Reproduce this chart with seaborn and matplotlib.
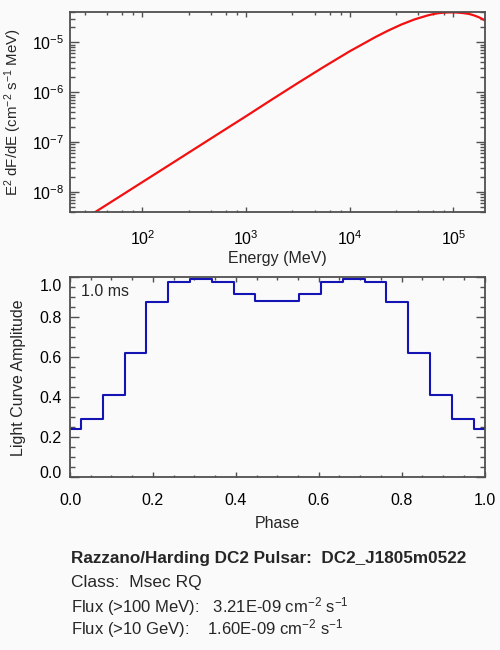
import numpy as np
import matplotlib
matplotlib.use("Agg")
import matplotlib.pyplot as plt
import matplotlib.ticker as mticker
from matplotlib.transforms import ScaledTranslation
import seaborn as sns
import pandas as pd

# --- spectrum (MeV, E^2 dF/dE)
energy = [31.6, 56.2, 100, 178, 316, 562, 1000, 1778, 3162, 5623,
          10000, 17783, 23714, 31623, 42170, 56234, 63096, 70795, 79433,
          89125, 100000, 112202, 125893, 141254, 158489, 177828, 199526]
e2dnde = [3.47e-9, 7.41e-9, 1.585e-8, 3.39e-8, 7.24e-8, 1.55e-7, 3.31e-7,
          7.16e-7, 1.53e-6, 3.22e-6, 6.61e-6, 1.281e-5, 1.734e-5, 2.28e-5,
          2.877e-5, 3.45e-5, 3.656e-5, 3.82e-5, 3.926e-5, 3.972e-5, 3.981e-5,
          3.936e-5, 3.846e-5, 3.715e-5, 3.467e-5, 3.162e-5, 2.786e-5]

# --- light curve (20 phase bins)
amplitude = [0.24, 0.29, 0.41, 0.62, 0.875, 0.975, 0.99, 0.975, 0.918, 0.883,
             0.883, 0.918, 0.975, 0.99, 0.975, 0.875, 0.62, 0.41, 0.29, 0.24]
phase = np.linspace(0.0, 1.0, len(amplitude))

pulsar_name = "DC2_J1805m0522"
pulsar_class = "Msec RQ"
flux_100mev = "3.21E-09"
flux_10gev = "1.60E-09"
period_text = "1.0 ms"

spec = pd.DataFrame({"energy": energy, "flux": e2dnde})
lc = pd.DataFrame({"phase": phase, "amp": amplitude})

sns.set_style("ticks")
bg = "#fafafa"
axcol = "#505050"
plt.rcParams["font.family"] = ["Liberation Sans", "DejaVu Sans"]
plt.rcParams["mathtext.fontset"] = "custom"
plt.rcParams["mathtext.rm"] = "Liberation Sans"
plt.rcParams["mathtext.it"] = "Liberation Sans:italic"
plt.rcParams["mathtext.bf"] = "Liberation Sans:bold"
plt.rcParams["font.size"] = 11.5


def style_axes(ax):
    ax.set_facecolor(bg)
    for s in ax.spines.values():
        s.set_color(axcol)
        s.set_linewidth(1.3)
    ax.tick_params(which="both", direction="in", top=True, right=True,
                   colors=axcol, labelcolor="black", width=1.0)
    ax.tick_params(axis="x", which="major", length=3.3, pad=11)
    ax.tick_params(axis="x", which="minor", length=1.8)
    ax.tick_params(axis="y", which="major", length=6.2, pad=4)
    ax.tick_params(axis="y", which="minor", length=3.6)


fig = plt.figure(figsize=(5, 6.5), dpi=100, facecolor=bg)

###     --Spectrum
ax1 = fig.add_axes([0.14, 0.6734, 0.829, 0.3077])
sns.lineplot(data=spec, x="energy", y="flux", ax=ax1, color="#f21010",
             linewidth=1.6, sort=False)
ax1.set_xscale("log")
ax1.set_yscale("log")
ax1.set_xlim(20, 2.0e5)
ax1.set_ylim(3.93e-9, 4.0e-5)
ax1.xaxis.set_major_locator(mticker.LogLocator(base=10, numticks=10))
ax1.xaxis.set_minor_locator(mticker.LogLocator(base=10, subs=(2.8, 4.6, 6.4, 8.2), numticks=10))
ax1.xaxis.set_minor_formatter(mticker.NullFormatter())
ax1.yaxis.set_major_locator(mticker.LogLocator(base=10, numticks=10))
ax1.yaxis.set_minor_locator(mticker.LogLocator(base=10, subs=np.arange(2, 10), numticks=10))
ax1.yaxis.set_minor_formatter(mticker.NullFormatter())
style_axes(ax1)
ax1.tick_params(axis="x", which="major", pad=12.5)
ax1.set_xlabel("Energy (MeV)", labelpad=2)
ax1.set_ylabel(r"E$^2$ dF/dE (cm$^{-2}$ s$^{-1}$ MeV)", fontsize=10.8)
ax1.yaxis.set_label_coords(-0.111, 0.5)

###     --Light curve
ax2 = fig.add_axes([0.14, 0.2657, 0.829, 0.3077])
sns.lineplot(data=lc, x="phase", y="amp", ax=ax2, color="#1414b4",
             linewidth=1.5, drawstyle="steps-mid")
ax2.set_xlim(0, 1)
ax2.set_ylim(0, 1.0)
ax2.set_xticks([0.0, 0.2, 0.4, 0.6, 0.8, 1.0])
ax2.set_yticks([0.0, 0.2, 0.4, 0.6, 0.8, 1.0])
ax2.xaxis.set_major_formatter(mticker.FormatStrFormatter("%.1f"))
ax2.yaxis.set_major_formatter(mticker.FormatStrFormatter("%.1f"))
ax2.xaxis.set_minor_locator(mticker.MultipleLocator(0.05))
ax2.yaxis.set_minor_locator(mticker.MultipleLocator(0.05))
style_axes(ax2)
ax2.tick_params(axis="y", which="major", pad=6)
ax2.set_xlabel("Phase", labelpad=6)
ax2.set_ylabel("Light Curve Amplitude")
ax2.yaxis.set_label_coords(-0.106, 0.5)
ax2.text(0.0265, 0.928, period_text, transform=ax2.transAxes,
         va="center", ha="left")

# IDL keeps end labels inside the axis
ylabs = ax2.get_yticklabels()
ylabs[0].set_transform(ylabs[0].get_transform() + ScaledTranslation(0, 0.05, fig.dpi_scale_trans))
ylabs[-1].set_transform(ylabs[-1].get_transform() + ScaledTranslation(0, -0.075, fig.dpi_scale_trans))

###     --Info text
fig.text(0.142, 1 - 563.5 / 650, f"Razzano/Harding DC2 Pulsar:  {pulsar_name}",
         fontsize=12.3, fontweight="bold", va="baseline")
fig.text(0.142, 1 - 587.5 / 650, f"Class:  {pulsar_class}", fontsize=12.5,
         va="baseline")
fig.text(0.142, 1 - 612.5 / 650,
         f"Flux (>100 MeV):   {flux_100mev} cm$^{{-2}}$ s$^{{-1}}$",
         fontsize=12, va="baseline")
fig.text(0.142, 1 - 634.0 / 650,
         f"Flux (>10 GeV):    {flux_10gev} cm$^{{-2}}$ s$^{{-1}}$",
         fontsize=12, va="baseline")

fig.savefig("out.png", dpi=100, facecolor=bg)
